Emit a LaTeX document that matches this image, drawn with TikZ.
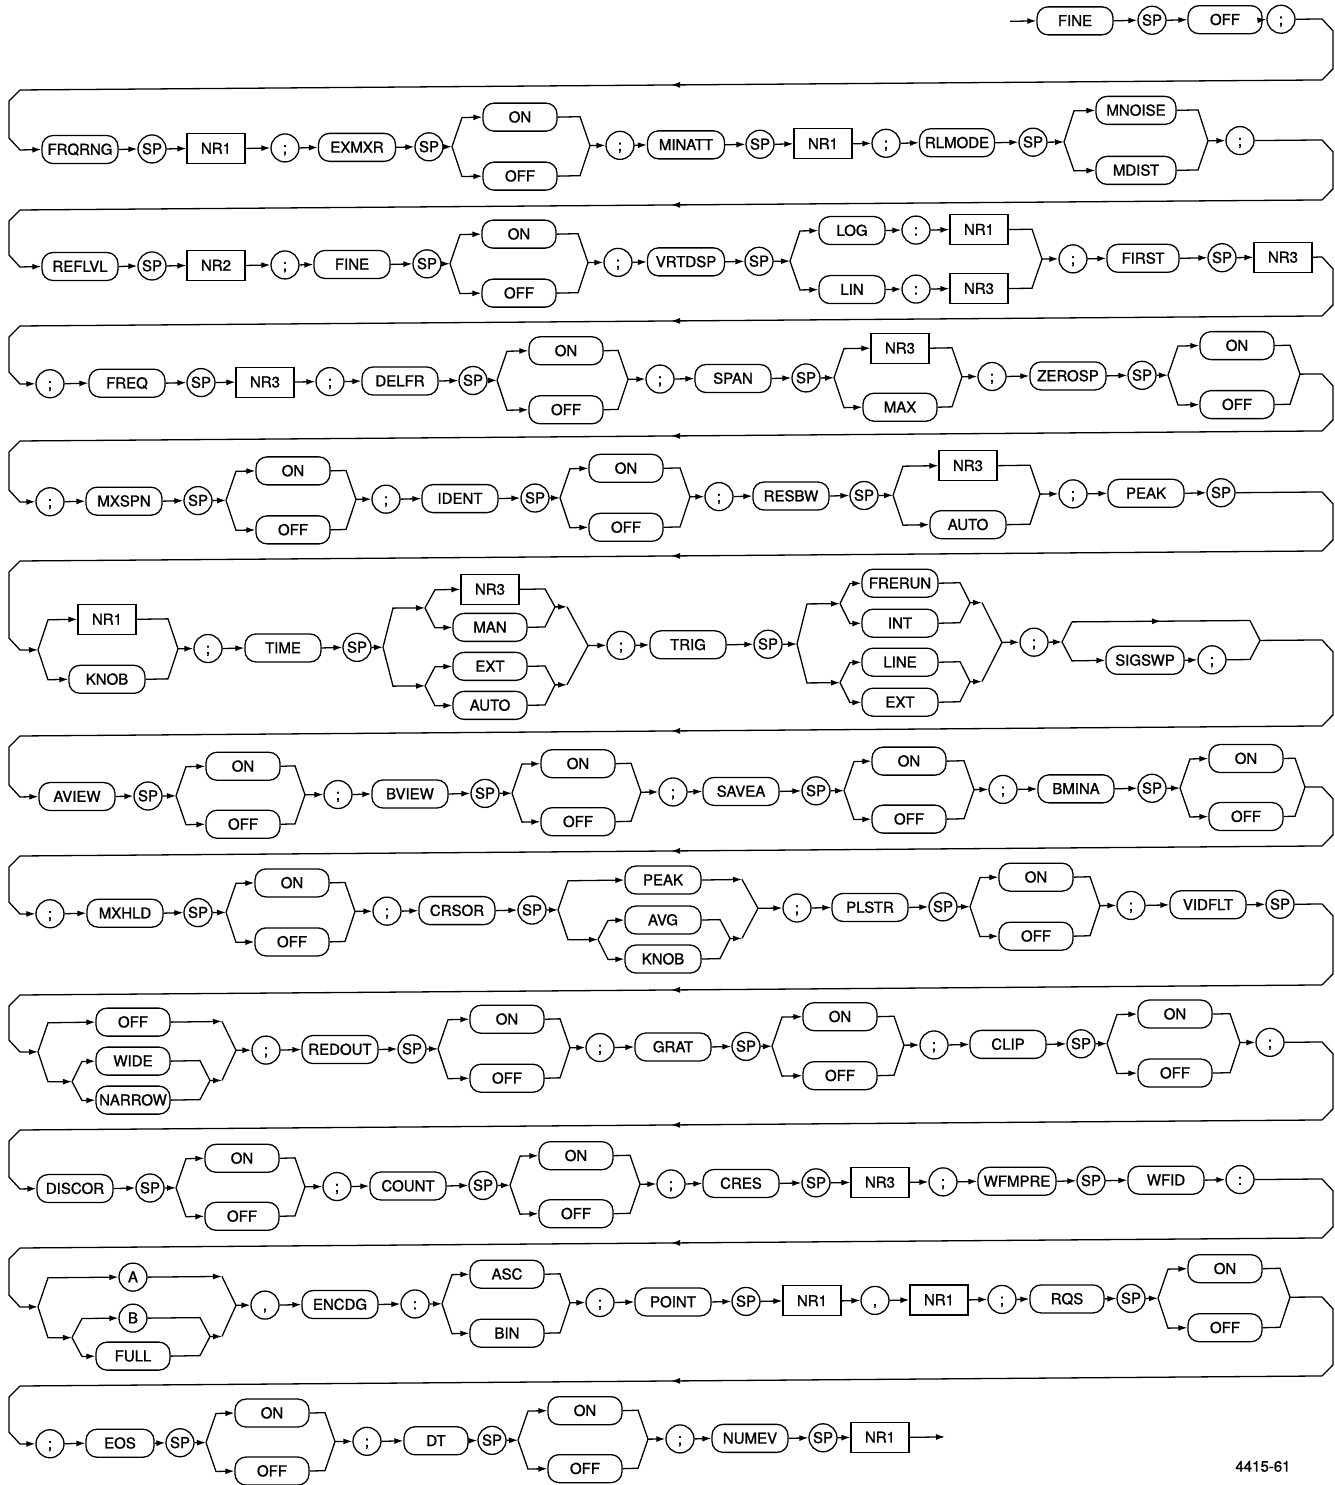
\documentclass[tikz,border=0pt]{standalone}
\usepackage{fontspec}
\setmainfont{TeX Gyre Heros}
\newfontfamily\diafont[FakeBold=1.3]{TeX Gyre Heros}
\usetikzlibrary{calc,arrows.meta,decorations.markings}
\tikzset{
  every node/.style={font=\diafont\fontsize{15}{17}\selectfont},
  kw/.style={draw, rounded corners=11pt, minimum height=28pt, minimum width=76pt, inner sep=0pt, line width=1.3pt, text height=10.5pt, text depth=0pt},
  ci/.style={draw, circle, minimum size=28pt, inner sep=0pt, line width=1.3pt, text height=10.5pt, text depth=0pt},
  bx/.style={draw, rectangle, minimum height=30pt, minimum width=58pt, inner sep=0pt, line width=1.2pt, text height=10.5pt, text depth=0pt},
  ln/.style={line width=1.3pt},
  ar/.style={ln, -{Latex[length=9pt,width=6pt]}},
  midarr/.style={ln, postaction={decorate}, decoration={markings, mark=at position 0.5 with {\arrow{Latex[length=9pt,width=6pt]}}}},
}
% nodes
\newcommand\kwn[4][76]{\node[kw,minimum width=#1pt] (#2) at (#3) {#4};}
\newcommand\cin[3]{\node[ci] (#1) at (#2) {#3};}
\newcommand\bxn[3]{\node[bx] (#1) at (#2) {#3};}
% connectors
\newcommand\lk[2]{\draw[ar] (#1.east) -- (#2.west);}
\newcommand\lc[2]{\draw[ar] (#1.east) -- (#2);}
\newcommand\cl[2]{\draw[ar] (#1) -- (#2.west);}
\newcommand\br[2]{\draw[ar] (#1) -- ($(#1 |- #2)+(10,0)$) -- (#2.west);}
\newcommand\brc[2]{\draw[ar] (#1) -- ($(#1 |- #2)+(10,0)$) -- (#2);}
\newcommand\mg[2]{\draw[ln] (#1.east) -- ($(#2 |- #1)+(-10,0)$) -- (#2);}
\newcommand\stub[3]{\draw[ar] (#1) -- (#2); \draw[ln] (#2) -- (#3);}
\newcommand\ret[5]{%
  \draw[ln] (#1) -- (1322,#2) -- (1333,{#2+12}) -- (1333,{#3-11}) -- (1322,#3);
  \draw[midarr] (1322,#3) -- (20,#3);
  \draw[ar] (20,#3) -- (9,{#3+11}) -- (9,{#4-12}) -- (20,#4) -- (#5);}
\begin{document}
\begin{tikzpicture}[x=1pt,y=-1pt]
\fill[white] (0,0) rectangle (1335,1485);
\useasboundingbox (0,0) rectangle (1335,1485);
\begin{scope}[yshift=-5.14pt,yslant=0.0077]
% ---------------- row 0
\coordinate (st) at (1010,24);
\kwn{fine0}{1075,24}{FINE}
\cin{sp0}{1152,24}{SP}
\kwn[74]{off0}{1225,24}{OFF}
\cin{sc0}{1281,24}{;}
\cl{st}{fine0} \lk{fine0}{sp0} \lk{sp0}{off0} \lk{off0}{sc0}
% ---------------- row 1
\kwn{frq}{80,145}{FRQRNG}
\cin{sp1a}{152,145}{SP}
\bxn{nr1a}{216,145}{NR1}
\cin{sc1a}{285,145}{;}
\kwn[77]{exm}{357,145}{EXMXR}
\cin{sp1b}{429,145}{SP}
\coordinate (s1a) at (452,145);
\kwn[74]{on1}{520,116}{ON}
\kwn[74]{off1}{520,175}{OFF}
\coordinate (m1a) at (590,145);
\cin{sc1b}{620,145}{;}
\kwn[77]{minatt}{686,145}{MINATT}
\cin{sp1c}{760,145}{SP}
\bxn{nr1b}{823,145}{NR1}
\cin{sc1c}{886,145}{;}
\kwn[75]{rlm}{957,145}{RLMODE}
\cin{sp1d}{1033,145}{SP}
\coordinate (s1b) at (1064,145);
\kwn[80]{mno}{1136,114}{MNOISE}
\kwn[80]{mdi}{1136,174}{MDIST}
\coordinate (m1b) at (1208,145);
\cin{sc1d}{1240,145}{;}
\lk{frq}{sp1a} \lk{sp1a}{nr1a} \lk{nr1a}{sc1a} \lk{sc1a}{exm} \lk{exm}{sp1b}
\lc{sp1b}{s1a} \br{s1a}{on1} \br{s1a}{off1} \mg{on1}{m1a} \mg{off1}{m1a} \cl{m1a}{sc1b}
\lk{sc1b}{minatt} \lk{minatt}{sp1c} \lk{sp1c}{nr1b} \lk{nr1b}{sc1c} \lk{sc1c}{rlm} \lk{rlm}{sp1d}
\lc{sp1d}{s1b} \br{s1b}{mno} \br{s1b}{mdi} \mg{mno}{m1b} \mg{mdi}{m1b} \cl{m1b}{sc1d}
% ---------------- row 2
\kwn{reflvl}{80,262}{REFLVL}
\cin{sp2a}{152,262}{SP}
\bxn{nr2}{216,262}{NR2}
\cin{sc2a}{285,262}{;}
\kwn{fine2}{352,262}{FINE}
\cin{sp2b}{427,262}{SP}
\coordinate (s2a) at (450,262);
\kwn[74]{on2}{519,233}{ON}
\kwn[74]{off2}{519,292}{OFF}
\coordinate (m2a) at (588,262);
\cin{sc2b}{618,262}{;}
\kwn[77]{vrtdsp}{686,262}{VRTDSP}
\cin{sp2c}{759,262}{SP}
\coordinate (s2b) at (790,262);
\kwn[66]{log}{852,232}{LOG}
\cin{cl2a}{916,232}{:}
\bxn{nr1c}{979,232}{NR1}
\kwn[66]{lin}{852,291}{LIN}
\cin{cl2b}{916,291}{:}
\bxn{nr3a}{979,291}{NR3}
\coordinate (m2b) at (1042,262);
\cin{sc2c}{1073,262}{;}
\kwn[72]{first}{1143,262}{FIRST}
\cin{sp2d}{1222,262}{SP}
\bxn{nr3b}{1283,262}{NR3}
\lk{reflvl}{sp2a} \lk{sp2a}{nr2} \lk{nr2}{sc2a} \lk{sc2a}{fine2} \lk{fine2}{sp2b}
\lc{sp2b}{s2a} \br{s2a}{on2} \br{s2a}{off2} \mg{on2}{m2a} \mg{off2}{m2a} \cl{m2a}{sc2b}
\lk{sc2b}{vrtdsp} \lk{vrtdsp}{sp2c} \lc{sp2c}{s2b}
\br{s2b}{log} \br{s2b}{lin} \lk{log}{cl2a} \lk{cl2a}{nr1c} \lk{lin}{cl2b} \lk{cl2b}{nr3a}
\mg{nr1c}{m2b} \mg{nr3a}{m2b} \cl{m2b}{sc2c}
\lk{sc2c}{first} \lk{first}{sp2d} \lk{sp2d}{nr3b}
% ---------------- row 3
\cin{sc3a}{50,379}{;}
\kwn{freq}{127,379}{FREQ}
\cin{sp3a}{201,379}{SP}
\bxn{nr3c}{265,379}{NR3}
\cin{sc3b}{330,379}{;}
\kwn{delfr}{400,379}{DELFR}
\cin{sp3b}{473,379}{SP}
\coordinate (s3a) at (497,379);
\kwn[74]{on3}{566,350}{ON}
\kwn[74]{off3}{566,409}{OFF}
\coordinate (m3a) at (628,379);
\cin{sc3c}{660,379}{;}
\kwn{span}{733,379}{SPAN}
\cin{sp3c}{806,379}{SP}
\coordinate (s3b) at (834,379);
\bxn{nr3d}{900,350}{NR3}
\kwn[74]{max}{900,409}{MAX}
\coordinate (m3b) at (962,379);
\cin{sc3d}{992,379}{;}
\kwn{zerosp}{1068,379}{ZEROSP}
\cin{sp3d}{1142,379}{SP}
\coordinate (s3c) at (1168,379);
\kwn[74]{on3b}{1237,350}{ON}
\kwn[74]{off3b}{1237,409}{OFF}
\coordinate (m3c) at (1300,379);
\lk{sc3a}{freq} \lk{freq}{sp3a} \lk{sp3a}{nr3c} \lk{nr3c}{sc3b} \lk{sc3b}{delfr} \lk{delfr}{sp3b}
\lc{sp3b}{s3a} \br{s3a}{on3} \br{s3a}{off3} \mg{on3}{m3a} \mg{off3}{m3a} \cl{m3a}{sc3c}
\lk{sc3c}{span} \lk{span}{sp3c} \lc{sp3c}{s3b} \br{s3b}{nr3d} \br{s3b}{max} \mg{nr3d}{m3b} \mg{max}{m3b} \cl{m3b}{sc3d}
\lk{sc3d}{zerosp} \lk{zerosp}{sp3d} \lc{sp3d}{s3c} \br{s3c}{on3b} \br{s3c}{off3b} \mg{on3b}{m3c} \mg{off3b}{m3c}
% ---------------- row 4
\cin{sc4a}{50,497}{;}
\kwn{mxspn}{124,497}{MXSPN}
\cin{sp4a}{198,497}{SP}
\coordinate (s4a) at (226,497);
\kwn[74]{on4}{293,468}{ON}
\kwn[74]{off4}{293,527}{OFF}
\coordinate (m4a) at (356,497);
\cin{sc4b}{386,497}{;}
\kwn{ident}{460,497}{IDENT}
\cin{sp4b}{535,497}{SP}
\coordinate (s4b) at (560,497);
\kwn[74]{on4b}{626,468}{ON}
\kwn[74]{off4b}{626,527}{OFF}
\coordinate (m4b) at (690,497);
\cin{sc4c}{719,497}{;}
\kwn{resbw}{791,497}{RESBW}
\cin{sp4c}{864,497}{SP}
\coordinate (s4c) at (893,497);
\bxn{nr3e}{968,468}{NR3}
\kwn{auto4}{968,527}{AUTO}
\coordinate (m4c) at (1040,497);
\cin{sc4d}{1073,497}{;}
\kwn{peak4}{1146,497}{PEAK}
\cin{sp4d}{1221,497}{SP}
\lk{sc4a}{mxspn} \lk{mxspn}{sp4a} \lc{sp4a}{s4a} \br{s4a}{on4} \br{s4a}{off4} \mg{on4}{m4a} \mg{off4}{m4a} \cl{m4a}{sc4b}
\lk{sc4b}{ident} \lk{ident}{sp4b} \lc{sp4b}{s4b} \br{s4b}{on4b} \br{s4b}{off4b} \mg{on4b}{m4b} \mg{off4b}{m4b} \cl{m4b}{sc4c}
\lk{sc4c}{resbw} \lk{resbw}{sp4c} \lc{sp4c}{s4c} \br{s4c}{nr3e} \br{s4c}{auto4} \mg{nr3e}{m4c} \mg{auto4}{m4c} \cl{m4c}{sc4d}
\lk{sc4d}{peak4} \lk{peak4}{sp4d}
% ---------------- row 5
\coordinate (s5a) at (38,645);
\bxn{nr1d}{107,615}{NR1}
\kwn{knob5}{107,675}{KNOB}
\coordinate (m5a) at (178,645);
\cin{sc5a}{208,645}{;}
\kwn{time}{283,645}{TIME}
\cin{sp5a}{357,645}{SP}
\coordinate (s5b) at (383,645);
\coordinate (ss5a) at (425,606);
\coordinate (ss5b) at (425,684);
\bxn{nr3f}{490,588}{NR3}
\kwn[74]{man}{490,626}{MAN}
\kwn[74]{ext5}{490,665}{EXT}
\kwn[74]{auto5}{490,704}{AUTO}
\coordinate (sm5a) at (555,606);
\coordinate (sm5b) at (555,684);
\coordinate (sa5a) at (567,606);
\coordinate (sa5b) at (567,684);
\coordinate (m5b) at (588,645);
\cin{sc5b}{621,645}{;}
\kwn{trig}{688,645}{TRIG}
\cin{sp5b}{768,645}{SP}
\coordinate (s5c) at (797,645);
\coordinate (ss5c) at (840,605);
\coordinate (ss5d) at (840,684);
\kwn{frerun}{900,585}{FRERUN}
\kwn{int}{900,625}{INT}
\kwn{line}{900,664}{LINE}
\kwn{ext5b}{900,704}{EXT}
\coordinate (sm5c) at (970,605);
\coordinate (sm5d) at (970,684);
\coordinate (sa5c) at (982,605);
\coordinate (sa5d) at (982,684);
\coordinate (m5c) at (1002,645);
\cin{sc5c}{1034,645}{;}
\coordinate (s5d) at (1062,645);
\coordinate (bp1) at (1072,625);
\coordinate (bp2) at (1250,625);
\kwn[78]{sigswp}{1145,664}{SIGSWP}
\cin{sc5d}{1212,664}{;}
\coordinate (m5d) at (1260,645);
\br{s5a}{nr1d} \br{s5a}{knob5} \mg{nr1d}{m5a} \mg{knob5}{m5a} \cl{m5a}{sc5a}
\lk{sc5a}{time} \lk{time}{sp5a} \lc{sp5a}{s5b}
\brc{s5b}{ss5a} \brc{s5b}{ss5b}
\br{ss5a}{nr3f} \br{ss5a}{man} \br{ss5b}{ext5} \br{ss5b}{auto5}
\mg{nr3f}{sm5a} \mg{man}{sm5a} \mg{ext5}{sm5b} \mg{auto5}{sm5b}
\stub{sm5a}{sa5a}{m5b} \stub{sm5b}{sa5b}{m5b} \cl{m5b}{sc5b}
\lk{sc5b}{trig} \lk{trig}{sp5b} \lc{sp5b}{s5c}
\brc{s5c}{ss5c} \brc{s5c}{ss5d}
\br{ss5c}{frerun} \br{ss5c}{int} \br{ss5d}{line} \br{ss5d}{ext5b}
\mg{frerun}{sm5c} \mg{int}{sm5c} \mg{line}{sm5d} \mg{ext5b}{sm5d}
\stub{sm5c}{sa5c}{m5c} \stub{sm5d}{sa5d}{m5c} \cl{m5c}{sc5c}
\lc{sc5c}{s5d}
\draw[ln] (s5d) -- (bp1); \draw[midarr] (bp1) -- (bp2); \draw[ln] (bp2) -- (m5d);
\br{s5d}{sigswp} \lk{sigswp}{sc5d} \mg{sc5d}{m5d}
% ---------------- row 6
\kwn{aview}{77,792}{AVIEW}
\cin{sp6a}{148,792}{SP}
\coordinate (s6a) at (176,792);
\kwn[74]{on6}{243,763}{ON}
\kwn[74]{off6}{243,821}{OFF}
\coordinate (m6a) at (305,792);
\cin{sc6a}{338,792}{;}
\kwn{bview}{410,792}{BVIEW}
\cin{sp6b}{485,792}{SP}
\coordinate (s6b) at (512,792);
\kwn[74]{on6b}{578,763}{ON}
\kwn[74]{off6b}{578,821}{OFF}
\coordinate (m6b) at (641,792);
\cin{sc6b}{673,792}{;}
\kwn{savea}{741,792}{SAVEA}
\cin{sp6c}{816,792}{SP}
\coordinate (s6c) at (844,792);
\kwn[74]{on6c}{909,763}{ON}
\kwn[74]{off6c}{909,821}{OFF}
\coordinate (m6c) at (974,792);
\cin{sc6c}{1003,792}{;}
\kwn{bmina}{1076,792}{BMINA}
\cin{sp6d}{1152,792}{SP}
\coordinate (s6d) at (1180,792);
\kwn[74]{on6d}{1246,763}{ON}
\kwn[74]{off6d}{1246,821}{OFF}
\coordinate (m6d) at (1305,792);
\lk{aview}{sp6a} \lc{sp6a}{s6a} \br{s6a}{on6} \br{s6a}{off6} \mg{on6}{m6a} \mg{off6}{m6a} \cl{m6a}{sc6a}
\lk{sc6a}{bview} \lk{bview}{sp6b} \lc{sp6b}{s6b} \br{s6b}{on6b} \br{s6b}{off6b} \mg{on6b}{m6b} \mg{off6b}{m6b} \cl{m6b}{sc6b}
\lk{sc6b}{savea} \lk{savea}{sp6c} \lc{sp6c}{s6c} \br{s6c}{on6c} \br{s6c}{off6c} \mg{on6c}{m6c} \mg{off6c}{m6c} \cl{m6c}{sc6c}
\lk{sc6c}{bmina} \lk{bmina}{sp6d} \lc{sp6d}{s6d} \br{s6d}{on6d} \br{s6d}{off6d} \mg{on6d}{m6d} \mg{off6d}{m6d}
% ---------------- row 7
\cin{sc7a}{50,909}{;}
\kwn{mxhld}{125,909}{MXHLD}
\cin{sp7a}{198,909}{SP}
\coordinate (s7a) at (226,909);
\kwn[74]{on7}{292,880}{ON}
\kwn[74]{off7}{292,939}{OFF}
\coordinate (m7a) at (355,909);
\cin{sc7b}{387,909}{;}
\kwn{crsor}{457,909}{CRSOR}
\cin{sp7b}{532,909}{SP}
\coordinate (s7b) at (558,909);
\kwn{peak7}{663,880}{PEAK}
\coordinate (pa7) at (742,880);
\coordinate (ss7) at (598,939);
\kwn{avg}{663,920}{AVG}
\kwn{knob7}{663,959}{KNOB}
\coordinate (sm7) at (730,939);
\coordinate (sa7) at (742,939);
\coordinate (m7b) at (758,909);
\cin{sc7c}{797,909}{;}
\kwn{plstr}{870,909}{PLSTR}
\cin{sp7c}{943,909}{SP}
\coordinate (s7c) at (970,909);
\kwn[74]{on7b}{1036,880}{ON}
\kwn[74]{off7b}{1036,939}{OFF}
\coordinate (m7c) at (1100,909);
\cin{sc7d}{1131,909}{;}
\kwn{vidflt}{1208,909}{VIDFLT}
\cin{sp7d}{1280,909}{SP}
\lk{sc7a}{mxhld} \lk{mxhld}{sp7a} \lc{sp7a}{s7a} \br{s7a}{on7} \br{s7a}{off7} \mg{on7}{m7a} \mg{off7}{m7a} \cl{m7a}{sc7b}
\lk{sc7b}{crsor} \lk{crsor}{sp7b} \lc{sp7b}{s7b}
\br{s7b}{peak7} \draw[ar] (peak7.east) -- (pa7); \draw[ln] (pa7) -- (m7b);
\brc{s7b}{ss7} \br{ss7}{avg} \br{ss7}{knob7} \mg{avg}{sm7} \mg{knob7}{sm7} \stub{sm7}{sa7}{m7b}
\cl{m7b}{sc7c}
\lk{sc7c}{plstr} \lk{plstr}{sp7c} \lc{sp7c}{s7c} \br{s7c}{on7b} \br{s7c}{off7b} \mg{on7b}{m7c} \mg{off7b}{m7c} \cl{m7c}{sc7d}
\lk{sc7d}{vidflt} \lk{vidflt}{sp7d}
% ---------------- row 8
\coordinate (s8a) at (38,1047);
\kwn[74]{off8}{133,1018}{OFF}
\coordinate (pa8) at (222,1018);
\coordinate (ss8) at (72,1077);
\kwn[74]{wide}{133,1057}{WIDE}
\kwn[74]{narrow}{133,1096}{NARROW}
\coordinate (sm8) at (210,1077);
\coordinate (sa8) at (222,1077);
\coordinate (m8) at (236,1047);
\cin{sc8a}{266,1047}{;}
\kwn{redout}{340,1047}{REDOUT}
\cin{sp8a}{412,1047}{SP}
\coordinate (s8b) at (438,1047);
\kwn[74]{on8}{507,1018}{ON}
\kwn[74]{off8b}{507,1077}{OFF}
\coordinate (m8b) at (570,1047);
\cin{sc8b}{600,1047}{;}
\kwn{grat}{673,1047}{GRAT}
\cin{sp8b}{746,1047}{SP}
\coordinate (s8c) at (772,1047);
\kwn[74]{on8c}{840,1018}{ON}
\kwn[74]{off8c}{840,1077}{OFF}
\coordinate (m8c) at (904,1047);
\cin{sc8c}{934,1047}{;}
\kwn{clip}{1008,1047}{CLIP}
\cin{sp8c}{1081,1047}{SP}
\coordinate (s8d) at (1107,1047);
\kwn[74]{on8d}{1175,1018}{ON}
\kwn[74]{off8d}{1175,1077}{OFF}
\coordinate (m8d) at (1240,1047);
\cin{sc8d}{1270,1047}{;}
\br{s8a}{off8} \draw[ar] (off8.east) -- (pa8); \draw[ln] (pa8) -- (m8);
\brc{s8a}{ss8} \br{ss8}{wide} \br{ss8}{narrow} \mg{wide}{sm8} \mg{narrow}{sm8} \stub{sm8}{sa8}{m8}
\cl{m8}{sc8a}
\lk{sc8a}{redout} \lk{redout}{sp8a} \lc{sp8a}{s8b} \br{s8b}{on8} \br{s8b}{off8b} \mg{on8}{m8b} \mg{off8b}{m8b} \cl{m8b}{sc8b}
\lk{sc8b}{grat} \lk{grat}{sp8b} \lc{sp8b}{s8c} \br{s8c}{on8c} \br{s8c}{off8c} \mg{on8c}{m8c} \mg{off8c}{m8c} \cl{m8c}{sc8c}
\lk{sc8c}{clip} \lk{clip}{sp8c} \lc{sp8c}{s8d} \br{s8d}{on8d} \br{s8d}{off8d} \mg{on8d}{m8d} \mg{off8d}{m8d} \cl{m8d}{sc8d}
% ---------------- row 9
\kwn{discor}{75,1184}{DISCOR}
\cin{sp9a}{150,1184}{SP}
\coordinate (s9a) at (176,1184);
\kwn[74]{on9}{242,1155}{ON}
\kwn[74]{off9}{242,1213}{OFF}
\coordinate (m9a) at (305,1184);
\cin{sc9a}{337,1184}{;}
\kwn{count}{408,1184}{COUNT}
\cin{sp9b}{483,1184}{SP}
\coordinate (s9b) at (510,1184);
\kwn[74]{on9b}{576,1155}{ON}
\kwn[74]{off9b}{576,1213}{OFF}
\coordinate (m9b) at (640,1184);
\cin{sc9b}{671,1184}{;}
\kwn{cres}{741,1184}{CRES}
\cin{sp9c}{816,1184}{SP}
\bxn{nr3g}{880,1184}{NR3}
\cin{sc9c}{943,1184}{;}
\kwn[78]{wfmpre}{1017,1184}{WFMPRE}
\cin{sp9d}{1091,1184}{SP}
\kwn{wfid}{1166,1184}{WFID}
\cin{cl9}{1240,1184}{:}
\lk{discor}{sp9a} \lc{sp9a}{s9a} \br{s9a}{on9} \br{s9a}{off9} \mg{on9}{m9a} \mg{off9}{m9a} \cl{m9a}{sc9a}
\lk{sc9a}{count} \lk{count}{sp9b} \lc{sp9b}{s9b} \br{s9b}{on9b} \br{s9b}{off9b} \mg{on9b}{m9b} \mg{off9b}{m9b} \cl{m9b}{sc9b}
\lk{sc9b}{cres} \lk{cres}{sp9c} \lk{sp9c}{nr3g} \lk{nr3g}{sc9c} \lk{sc9c}{wfmpre} \lk{wfmpre}{sp9d} \lk{sp9d}{wfid} \lk{wfid}{cl9}
% ---------------- row 10
\coordinate (s10a) at (38,1302);
\cin{a10}{133,1273}{A}
\coordinate (pa10) at (222,1273);
\coordinate (ss10) at (72,1333);
\cin{b10}{133,1314}{B}
\kwn[74]{full}{133,1352}{FULL}
\coordinate (sm10) at (210,1333);
\coordinate (sa10) at (222,1333);
\coordinate (m10) at (236,1302);
\cin{cm10a}{265,1302}{,}
\kwn{encdg}{340,1302}{ENCDG}
\cin{cl10}{415,1302}{:}
\coordinate (s10b) at (442,1302);
\kwn[74]{asc}{507,1273}{ASC}
\kwn[74]{bin}{507,1332}{BIN}
\coordinate (m10b) at (570,1302);
\cin{sc10a}{600,1302}{;}
\kwn{point}{673,1302}{POINT}
\cin{sp10a}{746,1302}{SP}
\bxn{nr1e}{812,1302}{NR1}
\cin{cm10b}{875,1302}{,}
\bxn{nr1f}{939,1302}{NR1}
\cin{sc10b}{1002,1302}{;}
\kwn[74]{rqs}{1067,1302}{RQS}
\cin{sp10b}{1131,1302}{SP}
\coordinate (s10c) at (1158,1302);
\kwn[74]{on10}{1225,1273}{ON}
\kwn[74]{off10}{1225,1332}{OFF}
\coordinate (m10c) at (1290,1302);
\br{s10a}{a10} \draw[ar] (a10.east) -- (pa10); \draw[ln] (pa10) -- (m10);
\brc{s10a}{ss10} \br{ss10}{b10} \br{ss10}{full} \mg{b10}{sm10} \mg{full}{sm10} \stub{sm10}{sa10}{m10}
\cl{m10}{cm10a}
\lk{cm10a}{encdg} \lk{encdg}{cl10} \lc{cl10}{s10b} \br{s10b}{asc} \br{s10b}{bin} \mg{asc}{m10b} \mg{bin}{m10b} \cl{m10b}{sc10a}
\lk{sc10a}{point} \lk{point}{sp10a} \lk{sp10a}{nr1e} \lk{nr1e}{cm10b} \lk{cm10b}{nr1f} \lk{nr1f}{sc10b} \lk{sc10b}{rqs} \lk{rqs}{sp10b}
\lc{sp10b}{s10c} \br{s10c}{on10} \br{s10c}{off10} \mg{on10}{m10c} \mg{off10}{m10c}
% ---------------- row 11
\cin{sc11a}{50,1439}{;}
\kwn[68]{eos}{120,1439}{EOS}
\cin{sp11a}{180,1439}{SP}
\coordinate (s11a) at (206,1439);
\kwn[74]{on11}{272,1410}{ON}
\kwn[74]{off11}{272,1468}{OFF}
\coordinate (m11a) at (335,1439);
\cin{sc11b}{367,1439}{;}
\kwn[64]{dt}{436,1439}{DT}
\cin{sp11b}{492,1439}{SP}
\coordinate (s11b) at (518,1439);
\kwn[74]{on11b}{585,1410}{ON}
\kwn[74]{off11b}{585,1468}{OFF}
\coordinate (m11b) at (648,1439);
\cin{sc11c}{680,1439}{;}
\kwn{numev}{750,1439}{NUMEV}
\cin{sp11c}{823,1439}{SP}
\bxn{nr1g}{880,1439}{NR1}
\coordinate (fin) at (945,1439);
\lk{sc11a}{eos} \lk{eos}{sp11a} \lc{sp11a}{s11a} \br{s11a}{on11} \br{s11a}{off11} \mg{on11}{m11a} \mg{off11}{m11a} \cl{m11a}{sc11b}
\lk{sc11b}{dt} \lk{dt}{sp11b} \lc{sp11b}{s11b} \br{s11b}{on11b} \br{s11b}{off11b} \mg{on11b}{m11b} \mg{off11b}{m11b} \cl{m11b}{sc11c}
\lk{sc11c}{numev} \lk{numev}{sp11c} \lk{sp11c}{nr1g} \lc{nr1g}{fin}
% ---------------- returns
\ret{sc0.east}{24}{85}{145}{frq.west}
\ret{sc1d.east}{145}{205}{262}{reflvl.west}
\ret{nr3b.east}{262}{321}{379}{sc3a.west}
\ret{m3c}{379}{436}{497}{sc4a.west}
\ret{sp4d.east}{497}{556}{645}{s5a}
\ret{m5d}{645}{731}{792}{aview.west}
\ret{m6d}{792}{851}{909}{sc7a.west}
\ret{sp7d.east}{909}{990}{1047}{s8a}
\ret{sc8d.east}{1047}{1125}{1184}{discor.west}
\ret{cl9.east}{1184}{1243}{1302}{s10a}
\ret{m10c}{1302}{1381}{1439}{sc11a.west}
\node[font=\diafont\fontsize{15}{17}\selectfont] (fig) at (1263,1471) {4415-61};
\end{scope}
\end{tikzpicture}
\end{document}
